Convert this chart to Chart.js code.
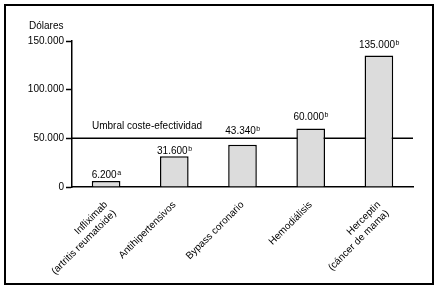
<!DOCTYPE html>
<html>
<head>
<meta charset="utf-8">
<script src="https://cdn.jsdelivr.net/npm/chart.js@4"></script>
<style>
  body { margin: 0; background: #fff; }
  #frame {
    position: absolute; left: 4px; top: 4px;
    width: 426px; height: 277px;
    border: 2px solid #000;
  }
</style>
</head>
<body>
<div id="frame"><canvas id="myChart"></canvas></div>
<script>
// data
var categories = [
  ["Infliximab", "(artritis reumatoide)"],
  "Antihipertensivos",
  "Bypass coronario",
  "Hemodiálisis",
  ["Herceptin", "(cáncer de mama)"]
];
var costs = [6200, 31600, 43340, 60000, 135000];
var costLabels = ["6.200", "31.600", "43.340", "60.000", "135.000"];
var footnotes = ["a", "b", "b", "b", "b"];
var yTicks = [0, 50000, 100000, 150000];
var threshold = 50000;
var thresholdLabel = "Umbral coste-efectividad";
var yTitle = "Dólares";

var FONT = "'Liberation Sans', Arial, sans-serif";
// gap between bar top and its label (px), the third one sits above the line
var labelGap = [3, 2, 11, 9, 8];

function fmt(v) {
  return String(v).replace(/\B(?=(\d{3})+(?!\d))/g, '.');
}

// threshold line (behind the bars) + its label
var thresholdPlugin = {
  id: 'threshold',
  beforeDatasetsDraw: function(chart) {
    var ctx = chart.ctx, area = chart.chartArea;
    var y = chart.scales.y.getPixelForValue(threshold);
    ctx.save();
    ctx.strokeStyle = '#000';
    ctx.lineWidth = 1.5;
    ctx.beginPath();
    ctx.moveTo(area.left, y);
    ctx.lineTo(area.right, y);
    ctx.stroke();
    ctx.fillStyle = '#000';
    ctx.font = '10px ' + FONT;
    ctx.textAlign = 'left';
    ctx.textBaseline = 'alphabetic';
    ctx.fillText(thresholdLabel, area.left + 20, y - 9);
    ctx.restore();
  }
};

// value labels with superscript notes, and the y title
var labelPlugin = {
  id: 'valueLabels',
  afterDatasetsDraw: function(chart) {
    var ctx = chart.ctx, area = chart.chartArea;
    var meta = chart.getDatasetMeta(0);
    ctx.save();
    ctx.fillStyle = '#000';
    ctx.textBaseline = 'alphabetic';
    ctx.textAlign = 'left';
    meta.data.forEach(function(bar, i) {
      ctx.font = '10px ' + FONT;
      var w1 = ctx.measureText(costLabels[i]).width;
      ctx.font = '7px ' + FONT;
      var w2 = ctx.measureText(footnotes[i]).width;
      var x0 = bar.x - (w1 + w2) / 2;
      var yb = bar.y - labelGap[i];
      ctx.font = '10px ' + FONT;
      ctx.fillText(costLabels[i], x0, yb);
      ctx.font = '7px ' + FONT;
      ctx.fillText(footnotes[i], x0 + w1 + 0.5, yb - 3);
    });
    ctx.font = '10px ' + FONT;
    ctx.textBaseline = 'middle';
    ctx.fillText(yTitle, area.left - 43, area.top - 15);
    ctx.restore();
  }
};

var myChart = new Chart(document.getElementById('myChart'), {
  type: 'bar',
  data: {
    labels: categories,
    datasets: [{
      data: costs,
      backgroundColor: '#dcdcdc',
      borderColor: '#000',
      borderWidth: 1.5,
      barPercentage: 0.42,
      categoryPercentage: 1
    }]
  },
  options: {
    responsive: true,
    maintainAspectRatio: false,
    animation: false,
    layout: { padding: { top: 35, right: 19, left: 0, bottom: 0 } },
    plugins: {
      legend: { display: false },
      tooltip: { enabled: false }
    },
    scales: {
      x: {
        grid: { display: false },
        border: { color: '#000', width: 1.5 },
        ticks: {
          color: '#000',
          font: { family: FONT, size: 10 },
          minRotation: 45,
          maxRotation: 45,
          padding: 4
        },
        afterFit: function(scale) { scale.height = 96; }
      },
      y: {
        min: 0,
        max: 150000,
        afterBuildTicks: function(scale) {
          scale.ticks = yTicks.map(function(v) { return { value: v }; });
        },
        grid: { drawOnChartArea: false, tickLength: 6, tickColor: '#000', tickWidth: 1.5 },
        border: { color: '#000', width: 1.5 },
        ticks: {
          color: '#000',
          font: { family: FONT, size: 10 },
          padding: 2,
          callback: function(v) { return fmt(v); }
        },
        afterFit: function(scale) { scale.width = 66; }
      }
    }
  },
  plugins: [thresholdPlugin, labelPlugin]
});
</script>
</body>
</html>
